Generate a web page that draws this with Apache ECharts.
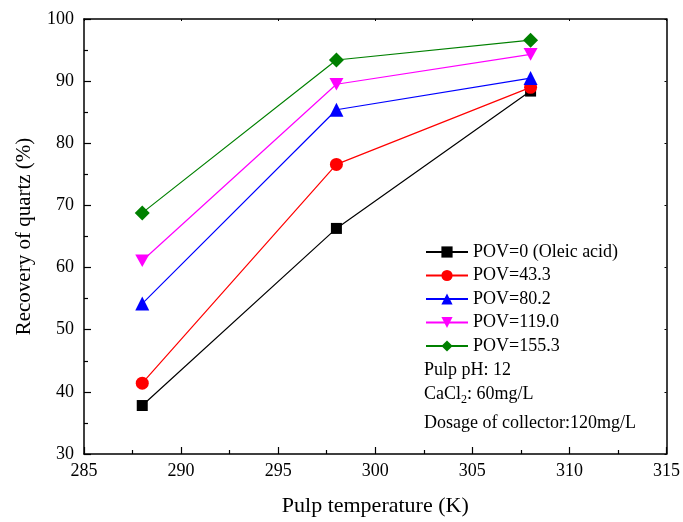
<!DOCTYPE html>
<html><head><meta charset="utf-8">
<script src="https://cdn.jsdelivr.net/npm/echarts@6/dist/echarts.min.js"></script>
<style>html,body{margin:0;padding:0;background:#fff}#c{width:683px;height:522px}</style>
</head><body><div id="c"></div>
<script>
const temps = [288, 298, 308];
const seriesNames = ['POV=0 (Oleic acid)', 'POV=43.3', 'POV=80.2', 'POV=119.0', 'POV=155.3'];
const pov0 = [37.8, 66.3, 88.4];
const pov43 = [41.4, 76.6, 89.0];
const pov80 = [54.2, 85.4, 90.5];
const pov119 = [61.1, 89.5, 94.3];
const pov155 = [68.8, 93.4, 96.6];
const xTicks = [285, 290, 295, 300, 305, 310, 315];
const yTicks = [30, 40, 50, 60, 70, 80, 90, 100];

const colors = ['#000000', '#ff0000', '#0000ff', '#ff00ff', '#008000'];
const symbols = ['rect', 'circle', 'triangle', 'path://M0,0 L10,0 L5,9 Z', 'diamond'];
const sizes = [11, 13, 14, 14, 15];
const values = [pov0, pov43, pov80, pov119, pov155];
const font = 'Liberation Serif, Times New Roman, serif';

const chart = echarts.init(document.getElementById('c'));
const axisBase = {
  axisLine: {show: true, onZero: false, lineStyle: {color: '#000', width: 1.5}},
  splitLine: {show: false}
};
chart.setOption({
  animation: false,
  grid: {left: 84, right: 14, top: 19, bottom: 67},
  xAxis: [
    Object.assign({}, axisBase, {
      type: 'value', min: xTicks[0], max: xTicks[xTicks.length - 1], interval: 5,
      position: 'bottom',
      name: 'Pulp temperature (K)', nameLocation: 'middle', nameGap: 41,
      nameTextStyle: {fontFamily: font, fontSize: 22, color: '#000'},
      axisTick: {inside: true, length: 7, lineStyle: {color: '#000', width: 1.2}},
      minorTick: {show: true, splitNumber: 2, length: 4, lineStyle: {color: '#000', width: 1.2}},
      axisLabel: {fontFamily: font, fontSize: 18, color: '#000', margin: 8}
    }),
    Object.assign({}, axisBase, {
      type: 'value', min: xTicks[0], max: xTicks[xTicks.length - 1], interval: 5,
      position: 'top',
      axisTick: {inside: true, length: 2, lineStyle: {color: '#000'}},
      axisLabel: {show: false}
    })
  ],
  yAxis: [
    Object.assign({}, axisBase, {
      type: 'value', min: yTicks[0], max: yTicks[yTicks.length - 1], interval: 10,
      position: 'left',
      name: 'Recovery of quartz (%)', nameLocation: 'middle', nameGap: 49,
      nameTextStyle: {fontFamily: font, fontSize: 21, color: '#000'},
      axisTick: {inside: true, length: 7, lineStyle: {color: '#000', width: 1.2}},
      minorTick: {show: true, splitNumber: 2, length: 4, lineStyle: {color: '#000', width: 1.2}},
      axisLabel: {fontFamily: font, fontSize: 18, color: '#000', margin: 10}
    }),
    Object.assign({}, axisBase, {
      type: 'value', min: yTicks[0], max: yTicks[yTicks.length - 1], interval: 10,
      position: 'right',
      axisTick: {inside: true, length: 2, lineStyle: {color: '#000'}},
      axisLabel: {show: false}
    })
  ],
  legend: {
    left: 425, top: 243, orient: 'vertical', padding: 0,
    itemWidth: 42, itemHeight: 14, itemGap: 5.5,
    textStyle: {fontFamily: font, fontSize: 18, lineHeight: 18, color: '#000'},
    data: seriesNames
  },
  graphic: [
    {type: 'text', left: 424, top: 361, style: {text: 'Pulp pH: 12', font: '18px ' + font, fill: '#000'}},
    {type: 'text', left: 424, top: 385, style: {
      text: '{n|CaCl}{s|2}{n|: 60mg/L}',
      rich: {n: {fontFamily: font, fontSize: 18, fill: '#000', color: '#000', verticalAlign: 'top'},
             s: {fontFamily: font, fontSize: 12, fill: '#000', color: '#000', padding: [9, 0, 0, 0]}}
    }},
    {type: 'text', left: 424, top: 414, style: {text: 'Dosage of collector:120mg/L', font: '18px ' + font, fill: '#000'}}
  ],
  series: seriesNames.map((name, i) => ({
    name: name, type: 'line',
    data: temps.map((t, j) => [t, values[i][j]]),
    symbol: symbols[i], symbolSize: sizes[i],
    symbolKeepAspect: true,
    lineStyle: {color: colors[i], width: 1.2},
    itemStyle: {color: colors[i]},
    z: 2 + i
  }))
});
</script></body></html>
